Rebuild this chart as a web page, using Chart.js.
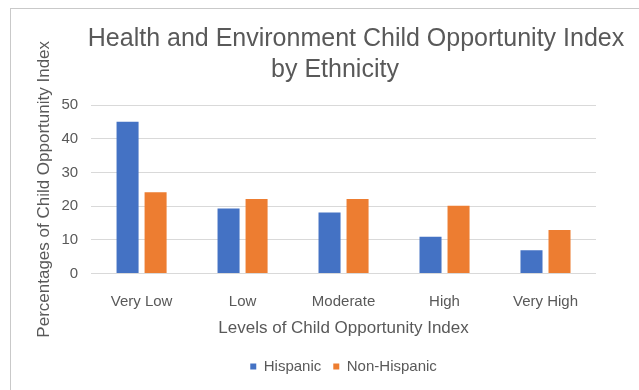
<!DOCTYPE html>
<html>
<head>
<meta charset="utf-8">
<script src="https://cdn.jsdelivr.net/npm/chart.js@4.4.1/dist/chart.umd.min.js"></script>
<style>
    html, body { margin: 0; padding: 0; background: #fff; overflow: hidden; }
    #wrap { position: relative; width: 639px; height: 390px; overflow: hidden; }
    #frame {
        position: absolute; left: 10px; top: 8px; width: 700px; height: 500px;
        border-left: 1px solid #c9c9c9; border-top: 1px solid #c9c9c9;
    }
    #coiChart { position: absolute; left: 0; top: 0; }
</style>
</head>
<body>
<div id="wrap">
    <div id="frame"></div>
    <canvas id="coiChart" width="639" height="390"></canvas>
</div>
<script>
const levels = ["Very Low", "Low", "Moderate", "High", "Very High"];
const hispanic = [45, 19.3, 18.1, 10.9, 6.9];
const nonHispanic = [24.1, 22.1, 22.1, 20.1, 12.9];
const yTicks = [0, 10, 20, 30, 40, 50];
const titleLines = ["Health and Environment Child Opportunity Index", "by Ethnicity"];

const textGray = "#595959";
const fontFamily = "'Liberation Sans', Arial, Helvetica, sans-serif";

// Two-line heading, each line centred on its own x like the spreadsheet original
const headingPlugin = {
    id: "heading",
    afterDraw(chart) {
        const ctx = chart.ctx;
        ctx.save();
        ctx.fillStyle = textGray;
        ctx.font = "25px " + fontFamily;
        ctx.textAlign = "center";
        ctx.textBaseline = "alphabetic";
        ctx.fillText(titleLines[0], 356, 46);
        ctx.fillText(titleLines[1], 335, 77);
        ctx.restore();
    }
};

const ctx = document.getElementById("coiChart").getContext("2d");
const coiChart = new Chart(ctx, {
    type: "bar",
    data: {
        labels: levels,
        datasets: [
            {
                label: "Hispanic",
                data: hispanic,
                backgroundColor: "#4472C4",
                categoryPercentage: 0.555,
                barPercentage: 0.786,
            },
            {
                label: "Non-Hispanic",
                data: nonHispanic,
                backgroundColor: "#ED7D31",
                categoryPercentage: 0.555,
                barPercentage: 0.786,
            },
        ],
    },
    options: {
        responsive: false,
        animation: false,
        devicePixelRatio: 1,
        layout: {
            padding: { top: 105, left: 34, right: 43, bottom: 6 },
        },
        scales: {
            x: {
                grid: { display: false, drawTicks: false },
                border: { display: false },
                ticks: {
                    color: textGray,
                    padding: 19,
                    font: { family: fontFamily, size: 15 },
                },
                title: {
                    display: true,
                    text: "Levels of Child Opportunity Index",
                    color: textGray,
                    padding: { top: 7, bottom: 8 },
                    font: { family: fontFamily, size: 17 },
                },
                // tick padding is counted twice by Chart.js; drop the outer half
                afterFit: (scale) => { scale.height -= 18; },
            },
            y: {
                min: 0,
                max: 50,
                afterBuildTicks: (scale) => {
                    scale.ticks = yTicks.map((v) => ({ value: v }));
                },
                grid: { color: "#d9d9d9", lineWidth: 1, drawTicks: false },
                border: { display: false },
                ticks: {
                    color: textGray,
                    padding: 13,
                    font: { family: fontFamily, size: 15 },
                },
                title: {
                    display: true,
                    text: "Percentages of Child Opportunity Index",
                    color: textGray,
                    padding: { top: 0, bottom: 6 },
                    font: { family: fontFamily, size: 17 },
                },
                afterFit: (scale) => { scale.width -= 12; },
            },
        },
        plugins: {
            title: { display: false },
            tooltip: { enabled: false },
            legend: {
                display: true,
                position: "bottom",
                fullSize: false,
                labels: {
                    color: textGray,
                    boxWidth: 6,
                    boxHeight: 6,
                    padding: 12,
                    font: { family: fontFamily, size: 15 },
                },
            },
        },
    },
    plugins: [headingPlugin],
});
</script>
</body>
</html>
